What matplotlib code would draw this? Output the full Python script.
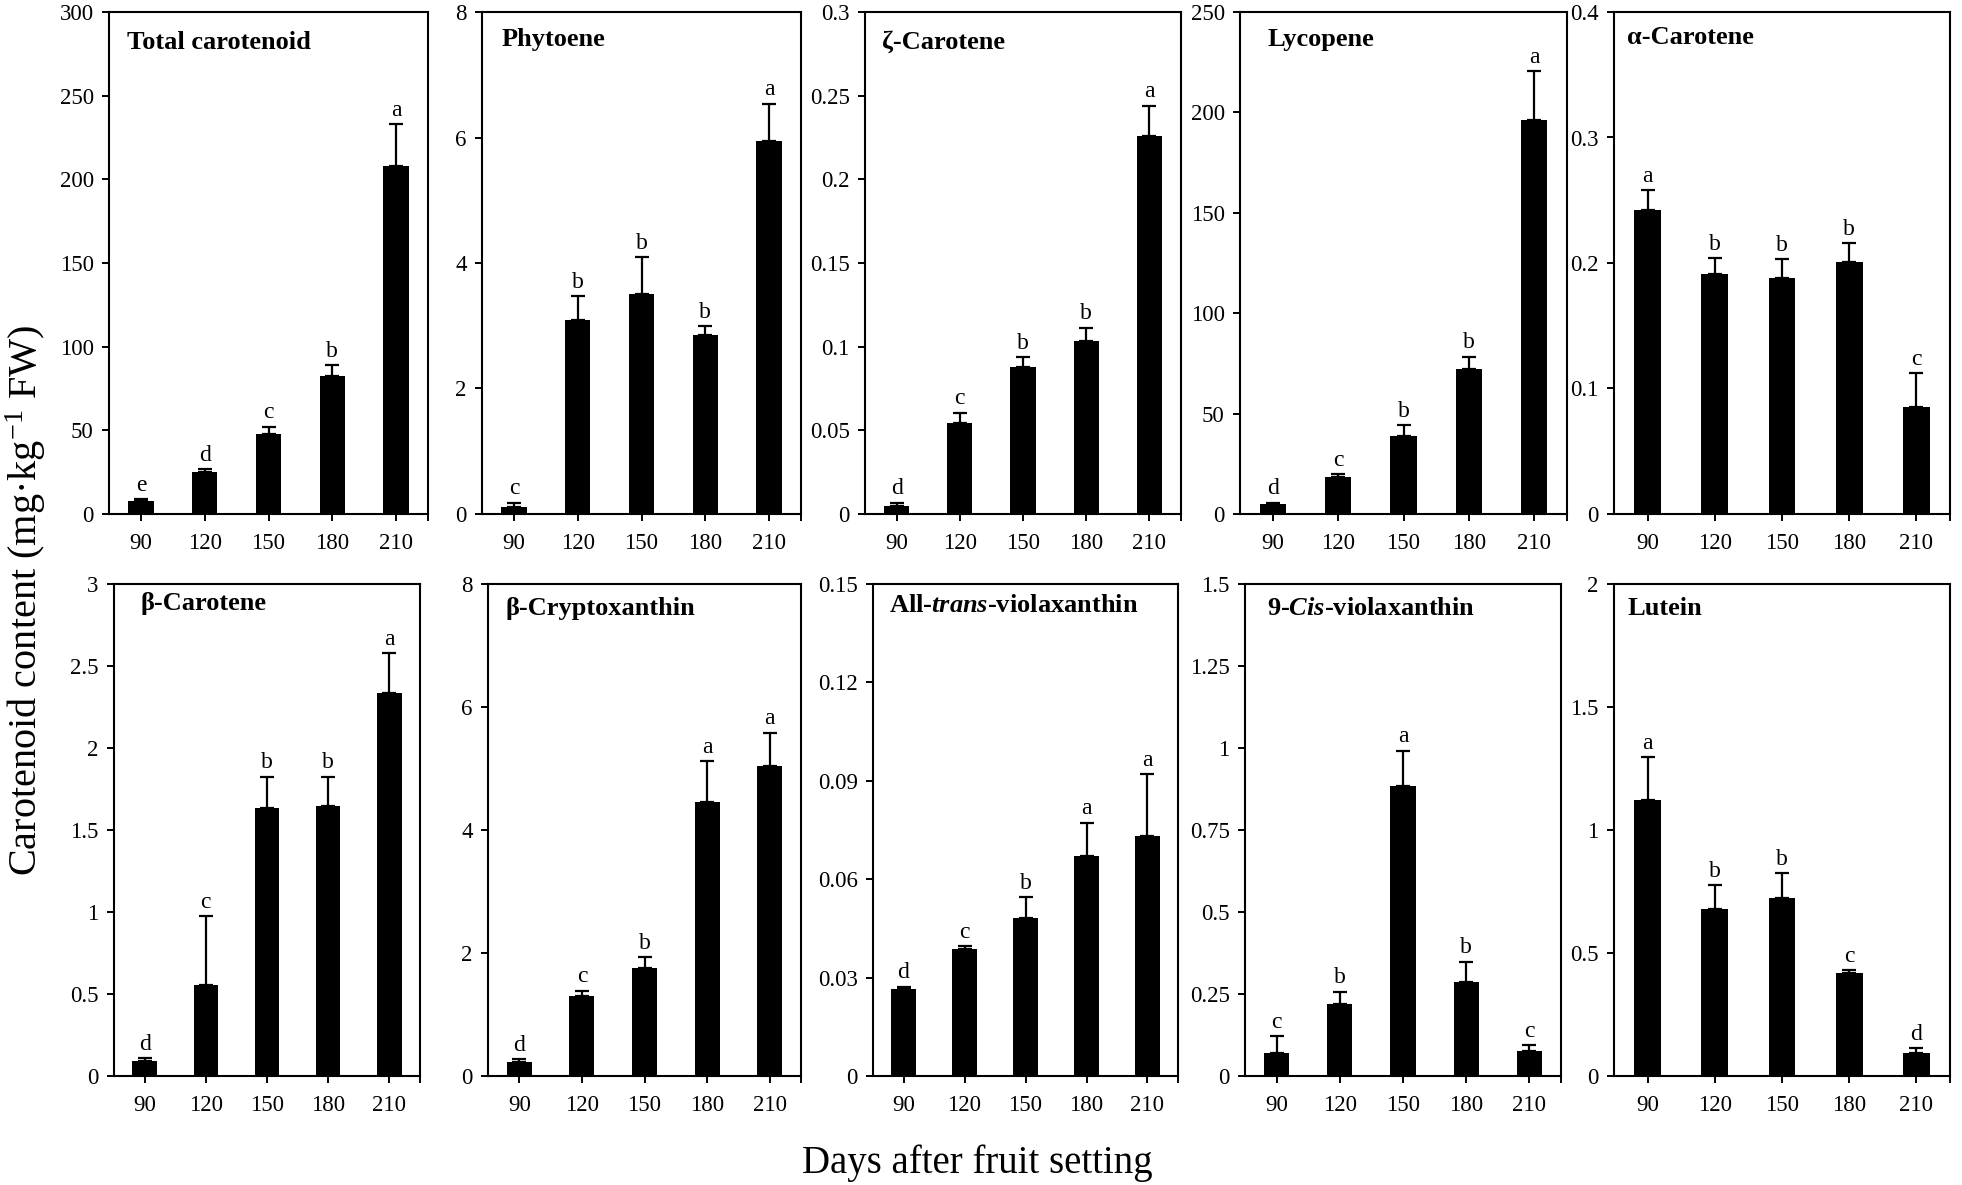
import numpy as np
import matplotlib
matplotlib.use("Agg")
import matplotlib.pyplot as plt
from matplotlib.ticker import FuncFormatter

plt.rcParams['font.family'] = ['Liberation Serif', 'DejaVu Serif']
plt.rcParams['mathtext.fontset'] = 'custom'
plt.rcParams['mathtext.rm'] = 'Liberation Serif'
plt.rcParams['mathtext.it'] = 'Liberation Serif:italic'
plt.rcParams['mathtext.bf'] = 'Liberation Serif:bold'
plt.rcParams['mathtext.bfit'] = 'Liberation Serif:italic:bold'

# days after fruit setting
days = ['90', '120', '150', '180', '210']

# panel names
titles = ['Total carotenoid', 'Phytoene', 'ζ-Carotene', 'Lycopene', 'α-Carotene',
          'β-Carotene', 'β-Cryptoxanthin', r'All-$\mathbfit{trans}$-violaxanthin',
          r'9-$\mathbfit{Cis}$-violaxanthin', 'Lutein']

# means (mg/kg FW)
total_carotenoid = [7.8, 25.2, 47.7, 82.2, 208.0]
phytoene = [0.11, 3.09, 3.51, 2.86, 5.95]
zeta_carotene = [0.0047, 0.0545, 0.088, 0.1034, 0.226]
lycopene = [5.0, 18.4, 38.8, 72.0, 196.0]
alpha_carotene = [0.242, 0.191, 0.188, 0.201, 0.085]
beta_carotene = [0.089, 0.553, 1.635, 1.645, 2.338]
beta_cryptoxanthin = [0.23, 1.30, 1.76, 4.45, 5.04]
all_trans_violaxanthin = [0.0266, 0.0388, 0.0483, 0.0672, 0.0731]
cis_violaxanthin = [0.070, 0.218, 0.884, 0.286, 0.075]
lutein = [1.121, 0.678, 0.723, 0.418, 0.092]

# standard errors
total_carotenoid_err = [1.1, 1.7, 4.4, 6.8, 24.8]
phytoene_err = [0.07, 0.38, 0.58, 0.13, 0.59]
zeta_carotene_err = [0.002, 0.006, 0.0058, 0.008, 0.018]
lycopene_err = [0.7, 1.6, 5.5, 6.4, 24.5]
alpha_carotene_err = [0.016, 0.013, 0.015, 0.015, 0.027]
beta_carotene_err = [0.018, 0.42, 0.19, 0.18, 0.24]
beta_cryptoxanthin_err = [0.04, 0.09, 0.17, 0.67, 0.54]
all_trans_violaxanthin_err = [0.0006, 0.0007, 0.0063, 0.010, 0.019]
cis_violaxanthin_err = [0.051, 0.039, 0.108, 0.063, 0.020]
lutein_err = [0.175, 0.098, 0.101, 0.013, 0.021]

# significance letters
total_carotenoid_sig = ['e', 'd', 'c', 'b', 'a']
phytoene_sig = ['c', 'b', 'b', 'b', 'a']
zeta_carotene_sig = ['d', 'c', 'b', 'b', 'a']
lycopene_sig = ['d', 'c', 'b', 'b', 'a']
alpha_carotene_sig = ['a', 'b', 'b', 'b', 'c']
beta_carotene_sig = ['d', 'c', 'b', 'b', 'a']
beta_cryptoxanthin_sig = ['d', 'c', 'b', 'a', 'a']
all_trans_violaxanthin_sig = ['d', 'c', 'b', 'a', 'a']
cis_violaxanthin_sig = ['c', 'b', 'a', 'b', 'c']
lutein_sig = ['a', 'b', 'b', 'c', 'd']

# y axis max and step per panel
y_max = [300, 8, 0.3, 250, 0.4, 3, 8, 0.15, 1.5, 2]
y_step = [50, 2, 0.05, 50, 0.1, 0.5, 2, 0.03, 0.25, 0.5]

means = [total_carotenoid, phytoene, zeta_carotene, lycopene, alpha_carotene,
         beta_carotene, beta_cryptoxanthin, all_trans_violaxanthin, cis_violaxanthin, lutein]
errs = [total_carotenoid_err, phytoene_err, zeta_carotene_err, lycopene_err, alpha_carotene_err,
        beta_carotene_err, beta_cryptoxanthin_err, all_trans_violaxanthin_err,
        cis_violaxanthin_err, lutein_err]
sigs = [total_carotenoid_sig, phytoene_sig, zeta_carotene_sig, lycopene_sig, alpha_carotene_sig,
        beta_carotene_sig, beta_cryptoxanthin_sig, all_trans_violaxanthin_sig,
        cis_violaxanthin_sig, lutein_sig]

W, H = 1962, 1185
fig = plt.figure(figsize=(W / 100, H / 100), dpi=100)

# axes boxes in pixels: left, right, top, bottom
lefts = [109, 482, 865, 1240, 1614, 114, 488, 873, 1245, 1614]
rights = [428, 801, 1181, 1567, 1950, 420, 801, 1178, 1561, 1950]
tops = [12] * 5 + [584] * 5
bottoms = [514] * 5 + [1076] * 5
title_pos = [(0.056, 0.94), (0.06, 0.945), (0.053, 0.94), (0.083, 0.945), (0.04, 0.95),
             (0.085, 0.96), (0.055, 0.95), (0.054, 0.957), (0.07, 0.95), (0.04, 0.95)]

fmt = FuncFormatter(lambda v, p: '{:g}'.format(round(v, 4)))
x = np.arange(len(days))

for i in range(10):
    ax = fig.add_axes([lefts[i] / W, 1 - bottoms[i] / H,
                       (rights[i] - lefts[i]) / W, (bottoms[i] - tops[i]) / H])
    ax.bar(x, means[i], width=0.4, color='black')
    ax.errorbar(x, means[i], yerr=[np.zeros(5), errs[i]], fmt='none', ecolor='black',
                elinewidth=1.6, capsize=5, capthick=1.6)
    for xi, m, e, s in zip(x, means[i], errs[i], sigs[i]):
        ax.annotate(s, (xi, m + e), xytext=(0, 6), textcoords='offset points',
                    ha='center', va='baseline', fontsize=17)
    ax.set_xlim(-0.5, 4.5)
    ax.set_ylim(0, y_max[i])
    ax.set_yticks(np.arange(0, y_max[i] + y_step[i] / 2, y_step[i]))
    ax.yaxis.set_major_formatter(fmt)
    ax.set_xticks(x)
    ax.set_xticklabels(days)
    ax.set_xticks([4.5], minor=True)
    ax.tick_params(axis='x', which='both', direction='out', length=5, width=1.4, pad=9,
                   labelsize=16.5)
    ax.tick_params(axis='y', direction='out', length=5, width=1.4, pad=6, labelsize=16.5)
    for sp in ax.spines.values():
        sp.set_linewidth(1.5)
    tx, ty = title_pos[i]
    ax.text(tx, ty, titles[i], transform=ax.transAxes, fontsize=19, fontweight='bold',
            ha='left', va='center')

fig.text(0.013, 0.493, 'Carotenoid content (mg·kg$^{-1}$ FW)', rotation=90,
         ha='center', va='center', fontsize=29)
fig.text(0.498, 0.0185, 'Days after fruit setting', ha='center', va='center', fontsize=28)

fig.savefig('out.png', dpi=100)
